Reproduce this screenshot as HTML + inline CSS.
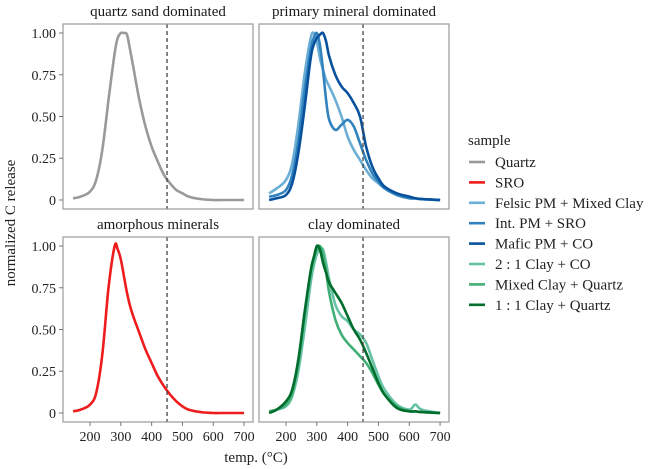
<!DOCTYPE html>
<html><head><meta charset="utf-8"><style>
body{margin:0;background:#fff;}
svg{display:block;font-family:"Liberation Serif",serif;}
</style></head><body>
<svg id="c" width="660" height="469"></svg>
<script>
const temps = [145,170,200,220,240,260,280,290,300,310,320,330,340,360,380,400,420,440,460,480,500,520,560,600,620,640,700];
const quartz = [0.01,0.02,0.05,0.12,0.3,0.6,0.88,0.97,1.0,1.0,0.99,0.9,0.8,0.6,0.44,0.32,0.23,0.15,0.1,0.06,0.04,0.02,0.005,0,0,0,0];
const sro =    [0.01,0.02,0.05,0.12,0.35,0.75,1.0,0.98,0.92,0.82,0.72,0.64,0.58,0.48,0.38,0.3,0.22,0.16,0.11,0.07,0.04,0.02,0.005,0,0,0,0];
const felsic = [0.04,0.07,0.12,0.22,0.45,0.75,0.97,1.0,0.95,0.85,0.78,0.72,0.68,0.6,0.5,0.38,0.3,0.24,0.18,0.13,0.1,0.07,0.03,0.015,0.01,0.005,0];
const intpm =  [0.02,0.03,0.06,0.15,0.35,0.65,0.9,0.97,1.0,0.93,0.78,0.6,0.48,0.42,0.45,0.48,0.44,0.34,0.24,0.16,0.11,0.07,0.03,0.01,0.01,0.005,0];
const mafic =  [0.0,0.01,0.03,0.1,0.28,0.55,0.85,0.93,0.97,0.99,1.0,0.95,0.86,0.75,0.68,0.64,0.58,0.5,0.32,0.2,0.13,0.08,0.04,0.02,0.01,0.005,0];
const clay21 = [0.01,0.02,0.04,0.1,0.25,0.5,0.78,0.88,0.95,0.98,0.98,0.9,0.8,0.65,0.58,0.55,0.5,0.47,0.42,0.32,0.22,0.14,0.05,0.02,0.05,0.02,0];
const mixed =  [0.01,0.02,0.05,0.12,0.3,0.58,0.85,0.93,0.98,1.0,0.95,0.85,0.72,0.56,0.47,0.42,0.38,0.34,0.3,0.24,0.17,0.11,0.04,0.01,0.01,0.005,0];
const clay11 = [0.0,0.02,0.07,0.14,0.32,0.6,0.85,0.93,1.0,0.98,0.9,0.84,0.78,0.72,0.66,0.58,0.5,0.44,0.36,0.27,0.18,0.11,0.03,0.01,0.01,0.005,0];
const xTicks = [200,300,400,500,600,700];
const yTicks = [0,0.25,0.5,0.75,1.0];
const yTickLabels = ["0","0.25","0.50","0.75","1.00"];

const NS="http://www.w3.org/2000/svg", svg=document.getElementById('c');
function mk(tag,attrs,parent){const e=document.createElementNS(NS,tag);for(const k in attrs)e.setAttribute(k,attrs[k]);(parent||svg).appendChild(e);return e;}
function smooth(pts){
  let d='M'+pts[0][0].toFixed(1)+','+pts[0][1].toFixed(1);
  for(let i=0;i<pts.length-1;i++){
    const p0=pts[i-1]||pts[i],p1=pts[i],p2=pts[i+1],p3=pts[i+2]||p2;
    const c1=[p1[0]+(p2[0]-p0[0])/6,p1[1]+(p2[1]-p0[1])/6],c2=[p2[0]-(p3[0]-p1[0])/6,p2[1]-(p3[1]-p1[1])/6];
    d+='C'+c1.map(v=>v.toFixed(1)).join(',')+' '+c2.map(v=>v.toFixed(1)).join(',')+' '+p2[0].toFixed(1)+','+p2[1].toFixed(1);
  }
  return d;
}
const PW=190,PH=185,X0=112.3,X1=729,Y0=-0.054,Y1=1.054;
const panels=[
 {x:63,y:24,title:"quartz sand dominated",name:"quartz-panel",series:[[quartz,"#9a9a9a","quartz-line"]]},
 {x:259,y:24,title:"primary mineral dominated",name:"primary-mineral-panel",series:[[felsic,"#6baed6","felsic-line"],[intpm,"#3182bd","int-pm-line"],[mafic,"#08519c","mafic-line"]]},
 {x:63,y:237,title:"amorphous minerals",name:"amorphous-panel",series:[[sro,"#ee1c1c","sro-line"]]},
 {x:259,y:237,title:"clay dominated",name:"clay-panel",series:[[clay21,"#66c2a4","clay21-line"],[mixed,"#41ae76","mixed-clay-line"],[clay11,"#006d2c","clay11-line"]]}
];
panels.forEach((p,i)=>{
  const sx=t=>p.x+(t-X0)/(X1-X0)*PW, sy=v=>p.y+PH-(v-Y0)/(Y1-Y0)*PH;
  const g=mk('g',{});
  
  
  const t=mk('text',{x:p.x+PW/2,y:p.y-8,'text-anchor':'middle','font-size':15,fill:'#1a1a1a'},g);t.textContent=p.title;
  
  
  p.series.forEach(s=>{
    const d=smooth(temps.map((tt,k)=>[sx(tt),sy(s[0][k])]));
    const l=mk('path',{d:d,fill:'none',stroke:s[1],'stroke-width':2.6,'stroke-linejoin':'round'},g);
    
    
  });
  const dl=mk('line',{x1:sx(450),x2:sx(450),y1:p.y,y2:p.y+PH,stroke:'#444','stroke-width':1.3,'stroke-dasharray':'4,3'},g);
  
  
  mk('rect',{x:p.x,y:p.y,width:PW,height:PH,fill:'none',stroke:'#9a9a9a','stroke-width':1.2},g);
  if(p.x===63){yTicks.forEach((v,k)=>{
    mk('line',{x1:p.x-4,x2:p.x,y1:sy(v),y2:sy(v),stroke:'#777'},g);
    const tl=mk('text',{x:p.x-7,y:sy(v)+5,'text-anchor':'end','font-size':14,fill:'#222'},g);tl.textContent=yTickLabels[k];
    
    
  });}
  if(i>=2){xTicks.forEach(v=>{
    mk('line',{x1:sx(v),x2:sx(v),y1:p.y+PH,y2:p.y+PH+4,stroke:'#777'},g);
    const tl=mk('text',{x:sx(v),y:p.y+PH+19,'text-anchor':'middle','font-size':14,fill:'#222'},g);tl.textContent=v;
    
    
  });}
});
const yt=mk('text',{x:0,y:0,transform:'translate(15,223) rotate(-90)','text-anchor':'middle','font-size':15,fill:'#222'});yt.textContent="normalized C release";


const xt=mk('text',{x:256,y:462,'text-anchor':'middle','font-size':15,fill:'#222'});xt.textContent="temp. (°C)";


const legNames=["Quartz","SRO","Felsic PM + Mixed Clay","Int. PM + SRO","Mafic PM + CO","2 : 1 Clay + CO","Mixed Clay + Quartz","1 : 1 Clay + Quartz"];
const legCols=["#9a9a9a","#ee1c1c","#6baed6","#3182bd","#08519c","#66c2a4","#41ae76","#006d2c"];
const lg=mk('g',{});


const lt=mk('text',{x:468,y:145,'font-size':15,fill:'#222'},lg);lt.textContent="sample";
legNames.forEach((n,k)=>{
  const y=162+k*20.4;
  const e=mk('g',{},lg);
  
  
  mk('line',{x1:469,x2:485,y1:y,y2:y,stroke:legCols[k],'stroke-width':2.6},e);
  const tx=mk('text',{x:495,y:y+5,'font-size':15,fill:'#222'},e);tx.textContent=n;
});
</script>
</body></html>
